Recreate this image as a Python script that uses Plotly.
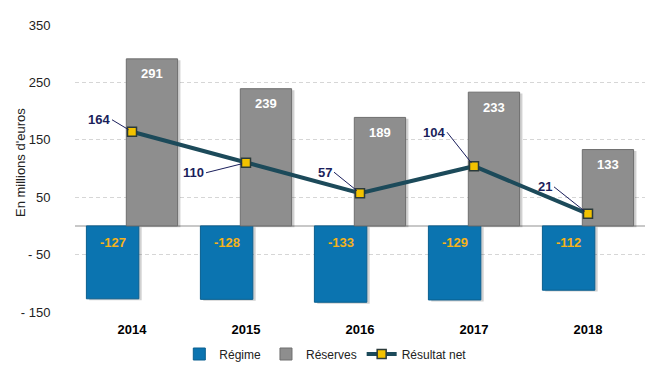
import plotly.graph_objects as go

years = ["2014", "2015", "2016", "2017", "2018"]
regime = [-127, -128, -133, -129, -112]
reserves = [291, 239, 189, 233, 133]
resultat = [164, 110, 57, 104, 21]
ytick_vals = [350, 250, 150, 50, -50, -150]
ytick_text = ["350", "250", "150", "50", "- 50", "- 150"]

FONT = "Arial, Liberation Sans, sans-serif"
BLUE = "#0B74B0"
GRAY = "#8E8E8E"
LINE = "#1C4A5A"
NAVY = "#1B1F5C"

# the page body has an 8px margin: size the figure so the plot lands where the reference has it
W, H = 649, 357
L, R, T, B = 67, 12, 17, 53
PH = H - T - B

REG_OFF, REG_W = -0.40, 0.46
RES_OFF, RES_W = -0.05, 0.45

fig = go.Figure()

# soft shadows
fig.add_trace(go.Bar(x=years, y=regime, base=[-2.5] * 5, offset=REG_OFF + 0.025, width=REG_W,
                     marker=dict(color="rgba(0,0,0,0.18)", line=dict(width=0)),
                     showlegend=False, hoverinfo="skip"))
fig.add_trace(go.Bar(x=years, y=reserves, base=[-2.5] * 5, offset=RES_OFF + 0.025, width=RES_W,
                     marker=dict(color="rgba(0,0,0,0.18)", line=dict(width=0)),
                     showlegend=False, hoverinfo="skip"))

fig.add_trace(go.Bar(name="Régime", x=years, y=regime, offset=REG_OFF, width=REG_W,
                     marker=dict(color=BLUE, line=dict(color="#0A5F8F", width=1))))
fig.add_trace(go.Bar(name="Réserves", x=years, y=reserves, offset=RES_OFF, width=RES_W,
                     marker=dict(color=GRAY, line=dict(color="#6E6E6E", width=1))))
fig.add_trace(go.Scatter(name="Résultat net", x=years, y=resultat, mode="lines+markers",
                         line=dict(color=LINE, width=4),
                         marker=dict(symbol="square", size=9, color="#F2C200",
                                     line=dict(color="#2B3A3A", width=1.5))))

# bar value labels
for i, v in enumerate(regime):
    fig.add_annotation(x=i + REG_OFF + REG_W / 2, y=0, text=f"<b>{v}</b>", showarrow=False,
                       yshift=-17, yanchor="middle",
                       font=dict(family=FONT, size=13, color="#F5B21B"))
for i, v in enumerate(reserves):
    fig.add_annotation(x=i + RES_OFF + RES_W / 2, y=v, text=f"<b>{v}</b>", showarrow=False,
                       yshift=-15, yanchor="middle",
                       font=dict(family=FONT, size=13, color="white"))

# net result labels with leader lines
offsets = [(-20, -12), (-40, 10), (-26, -21), (-27, -34), (-34, -27)]
for i, (yv, (ax, ay)) in enumerate(zip(resultat, offsets)):
    fig.add_annotation(x=i, y=yv, xref="x", yref="y", text=f"<b>{yv}</b>", ax=ax, ay=ay,
                       showarrow=True, arrowhead=0, arrowwidth=1, arrowcolor=NAVY,
                       xanchor="right", yanchor="middle", standoff=4,
                       font=dict(family=FONT, size=13, color=NAVY))

fig.add_annotation(text="En millions d'euros", xref="paper", yref="paper",
                   x=(12 - L) / (W - L - R), y=(304 - 155) / PH, textangle=-90,
                   showarrow=False, xanchor="center", yanchor="middle",
                   font=dict(family=FONT, size=13, color="#222"))

fig.update_layout(
    width=W, height=H, barmode="overlay",
    margin=dict(l=L, r=R, t=T, b=B, autoexpand=False),
    paper_bgcolor="white", plot_bgcolor="white",
    font=dict(family=FONT, size=12, color="#222"),
    showlegend=True,
    legend=dict(orientation="h", x=0.44, xanchor="center", y=-42 / PH, yanchor="middle",
                itemwidth=30, font=dict(family=FONT, size=12, color="#222"),
                traceorder="normal"),
    xaxis=dict(type="category", range=[-0.5, 4.5], showgrid=False, showline=False,
               ticks="outside", ticklen=5, tickcolor="rgba(0,0,0,0)", automargin=False,
               tickfont=dict(family=FONT, size=13, color="black", weight="bold")),
    yaxis=dict(range=[-150, 350], tickvals=ytick_vals, ticktext=ytick_text,
               showgrid=True, gridcolor="#D6D6D6", griddash="4px,3px", gridwidth=1,
               zeroline=True, zerolinecolor="#C8C8C8", zerolinewidth=1.5,
               ticks="outside", ticklen=21, tickcolor="rgba(0,0,0,0)", automargin=False,
               tickfont=dict(family=FONT, size=13, color="#222")),
)

fig.write_html("out.html")
